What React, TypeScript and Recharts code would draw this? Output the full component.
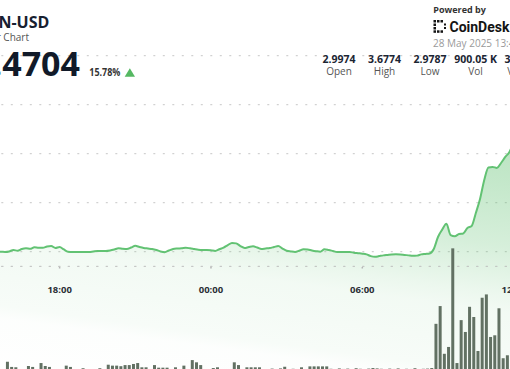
import { AreaChart, Area, BarChart, Bar, XAxis, YAxis, CartesianGrid } from "recharts";

// minutes after 18:00, first point is 13:50 the day before, one point every 10 min
const START = -250;
const STEP = 10;
const X_DOMAIN = [-256, 1184];

const prices = [
  2.9974, 3.0, 3.002, 2.999, 3.001, 3.003, 3.0, 2.998, 3.001, 3.002, 3.0,
  3.0, 2.999, 3.001, 3.007, 3.004, 3.011, 3.014, 3.012, 3.018, 3.016, 3.016,
  3.021, 3.023, 3.015, 3.019, 3.009, 3.0, 2.999, 2.999, 2.999, 2.999, 2.999,
  3.001, 3.003, 3.003, 3.003, 3.005, 3.009, 3.014, 3.012, 3.011, 3.017, 3.024,
  3.019, 3.015, 3.013, 3.011, 3.007, 3.001, 2.998, 3.005, 3.011, 3.013, 3.014,
  3.016, 3.014, 3.011, 3.008, 3.007, 3.007, 3.006, 3.003, 3.01, 3.017, 3.027,
  3.036, 3.034, 3.023, 3.015, 3.019, 3.022, 3.017, 3.011, 3.013, 3.015, 3.019,
  3.023, 3.013, 3.004, 3.001, 2.999, 3.004, 3.01, 3.009, 3.005, 3.002, 3.0,
  3.01, 3.007, 3.003, 2.999, 2.999, 2.999, 2.999, 2.996, 2.994, 2.992, 2.989,
  2.982, 2.979, 2.982, 2.985, 2.987, 2.989, 2.99, 2.989, 2.987, 2.985, 2.983,
  2.984, 2.989, 2.991, 2.993, 3.011, 3.06, 3.09, 3.114, 3.068, 3.063, 3.072,
  3.074, 3.097, 3.105, 3.158, 3.215, 3.293, 3.344, 3.346, 3.342, 3.362, 3.387,
  3.407, 3.45, 3.52, 3.585, 3.63, 3.677, 3.64, 3.58, 3.53, 3.495, 3.48, 3.4704,
];

// volume per 10 min interval, thousands
const volumes = [
  1.2, 0.9, 1.6, 0.8, 1.1, 2.0, 1.0, 0.7, 1.3, 0.9,
  0.8, 1.0, 5.0, 2.2, 2.0, 0.8, 0.9, 2.7, 2.2, 0.8, 4.3, 2.7, 2.2, 0.8, 0.7,
  1.0, 2.9, 2.2, 0.8, 0.7, 1.5, 0.8, 0.6, 0.8, 1.5, 0.9, 3.4, 2.9, 2.9, 2.6,
  3.2, 3.2, 3.8, 4.3, 2.0, 2.0, 0.9, 3.2, 1.8, 1.8, 1.8, 0.7, 2.0, 0.8, 2.9,
  0.7, 5.9, 4.7, 3.2, 0.8, 0.6, 1.6, 2.0, 0.7, 0.8, 0.9, 4.7, 3.2, 0.8, 2.0,
  2.0, 2.0, 2.0, 1.0, 0.9, 1.3, 1.0, 1.4, 2.3, 1.0, 1.2, 0.9, 2.0, 1.0, 2.5,
  2.5, 2.5, 2.5, 2.5, 1.2, 1.0, 1.4, 1.1, 1.3, 1.0, 1.5, 1.2, 1.0, 1.3, 1.6,
  1.4, 1.2, 1.0, 1.3, 1.1, 1.4, 1.0, 1.2, 1.1, 1.5, 1.0, 1.2, 1.3, 1.6, 25.5,
  35.1, 9.3, 13.0, 66.3, 4.3, 27.5, 21.1, 34.7, 29.2, 10.8, 39.6, 41.4, 18.4,
  19.3, 33.9, 6.9, 8.5, 43.2,
  40.5, 55.0, 48.2, 36.4, 60.1, 42.7, 30.3, 38.0, 27.6, 24.8, 12.0,
];

const tickTimes = [0, 360, 720, 1080];
const tickLabels = ["18:00", "00:00", "06:00", "12:00"];
const priceTicks = [3.0, 3.2, 3.4, 3.6];

const statValues = ["2.9974", "3.6774", "2.9787", "900.05 K", "3.3108"];
const statLabels = ["Open", "High", "Low", "Vol", "VWAP"];

const priceData = prices.map((p, i) => ({ t: START + i * STEP, price: p }));
const volumeData = volumes.map((v, i) => ({ t: START + i * STEP + STEP / 2, vol: v }));

const GREEN = "#5dbf6e";
const FONT = '"Open Sans", sans-serif';
const DOTS = { stroke: "#c6c6c6", strokeDasharray: "2 7.5", strokeDashoffset: -1.8 };

export default function App() {
  return (
    <div
      style={{
        position: "fixed",
        left: 0,
        top: 0,
        width: 510,
        height: 369,
        overflow: "hidden",
        background: "#fff",
        fontFamily: FONT,
      }}
    >
      <div style={{ position: "absolute", left: -47.6, top: 0 }}>
        <AreaChart
          width={665.4}
          height={369}
          data={priceData}
          margin={{ top: 55.7, right: 60, bottom: 72.6, left: 0 }}
        >
          <defs>
            <linearGradient id="priceFill" x1="0.284" y1="0" x2="0" y2="1">
              <stop offset="0" stopColor={GREEN} stopOpacity={0.72} />
              <stop offset="0.15" stopColor={GREEN} stopOpacity={0.6} />
              <stop offset="0.35" stopColor={GREEN} stopOpacity={0.42} />
              <stop offset="0.5" stopColor={GREEN} stopOpacity={0.2} />
              <stop offset="0.56" stopColor={GREEN} stopOpacity={0.13} />
              <stop offset="0.76" stopColor={GREEN} stopOpacity={0.08} />
              <stop offset="0.8" stopColor={GREEN} stopOpacity={0.025} />
              <stop offset="1" stopColor={GREEN} stopOpacity={0} />
            </linearGradient>
          </defs>
          <CartesianGrid vertical={false} {...DOTS} />
          <XAxis
            dataKey="t"
            type="number"
            domain={X_DOMAIN}
            ticks={tickTimes}
            interval={0}
            tickFormatter={(t: number) => tickLabels[tickTimes.indexOf(t)]}
            axisLine={DOTS}
            tickLine={{ stroke: "#b5b5b5", strokeWidth: 1.5, strokeDasharray: "0 8 1.5 20" }}
            tickSize={10}
            tickMargin={10}
            height={30}
            tick={{ fontSize: 9.5, fontWeight: 700, fill: "#2b2f36", fontFamily: FONT }}
          />
          <YAxis hide type="number" domain={[2.94, 3.8]} ticks={priceTicks} />
          <Area
            dataKey="price"
            type="monotone"
            stroke="#62c273"
            strokeWidth={2}
            fill="url(#priceFill)"
            baseValue={2.5}
            dot={false}
            activeDot={false}
            isAnimationActive={false}
          />
        </AreaChart>
      </div>

      <div style={{ position: "absolute", left: -47.6, top: 0 }}>
        <BarChart
          width={665.4}
          height={380}
          data={volumeData}
          margin={{ top: 186, right: 60, bottom: 9, left: 0 }}
        >
          <XAxis hide dataKey="t" type="number" domain={X_DOMAIN} />
          <YAxis hide type="number" domain={[0, 100]} />
          <Bar dataKey="vol" fill="#627163" barSize={3} isAnimationActive={false} />
        </BarChart>
      </div>

      <svg
        width={510}
        height={369}
        style={{ position: "absolute", left: 0, top: 0, fontFamily: FONT }}
      >
        <text x={49.3} y={28.3} textAnchor="end" fontSize={16} fontWeight={700} fill="#172030">
          TON-USD
        </text>
        <text x={29} y={40.7} textAnchor="end" fontSize={10} fill="#555">
          24 Hour Chart
        </text>
        <text x={80} y={76} textAnchor="end" fontSize={34} fontWeight={700} fill="#111a29">
          3.4704
        </text>
        <text x={89.3} y={76} fontSize={10} fontWeight={700} fill="#333" textLength={31} lengthAdjust="spacingAndGlyphs">
          15.78%
        </text>
        <polygon points="124.7,76.7 135,76.7 129.85,68.3" fill="#55b862" />

        <text x={433.3} y={13.3} fontSize={9} fontWeight={700} fill="#333">
          Powered by
        </text>
        <g fill="#151515">
          <rect x={433.5} y={20} width={2.5} height={2.5} />
          <rect x={437} y={20} width={2.5} height={2.5} />
          <rect x={440.5} y={20} width={2.5} height={2.5} />
          <rect x={433.5} y={23.5} width={2.5} height={2.5} />
          <rect x={433.5} y={27} width={2.5} height={2.5} />
          <rect x={433.5} y={30.3} width={2.5} height={2.5} />
          <rect x={437} y={30.3} width={2.5} height={2.5} />
          <rect x={440.5} y={30.3} width={2.5} height={2.5} />
          <rect x={444} y={23.5} width={2} height={2} />
          <rect x={444} y={27} width={2} height={2} />
        </g>
        <text x={449.5} y={31.7} fontSize={14} fontWeight={700} fill="#141414" fontFamily="Roboto">
          CoinDesk
        </text>
        <text x={433} y={47.3} fontSize={10} fill="#9a9a9a">
          28 May 2025 13:44
        </text>

        {statValues.map((v, i) => (
          <text key={v} x={339 + i * 45.5} y={62.7} textAnchor="middle" fontSize={10.5} fontWeight={700} fill="#1b2533">
            {v}
          </text>
        ))}
        {statLabels.map((l, i) => (
          <text key={l} x={339 + i * 45.5} y={75} textAnchor="middle" fontSize={10} fill="#555">
            {l}
          </text>
        ))}
      </svg>
    </div>
  );
}
